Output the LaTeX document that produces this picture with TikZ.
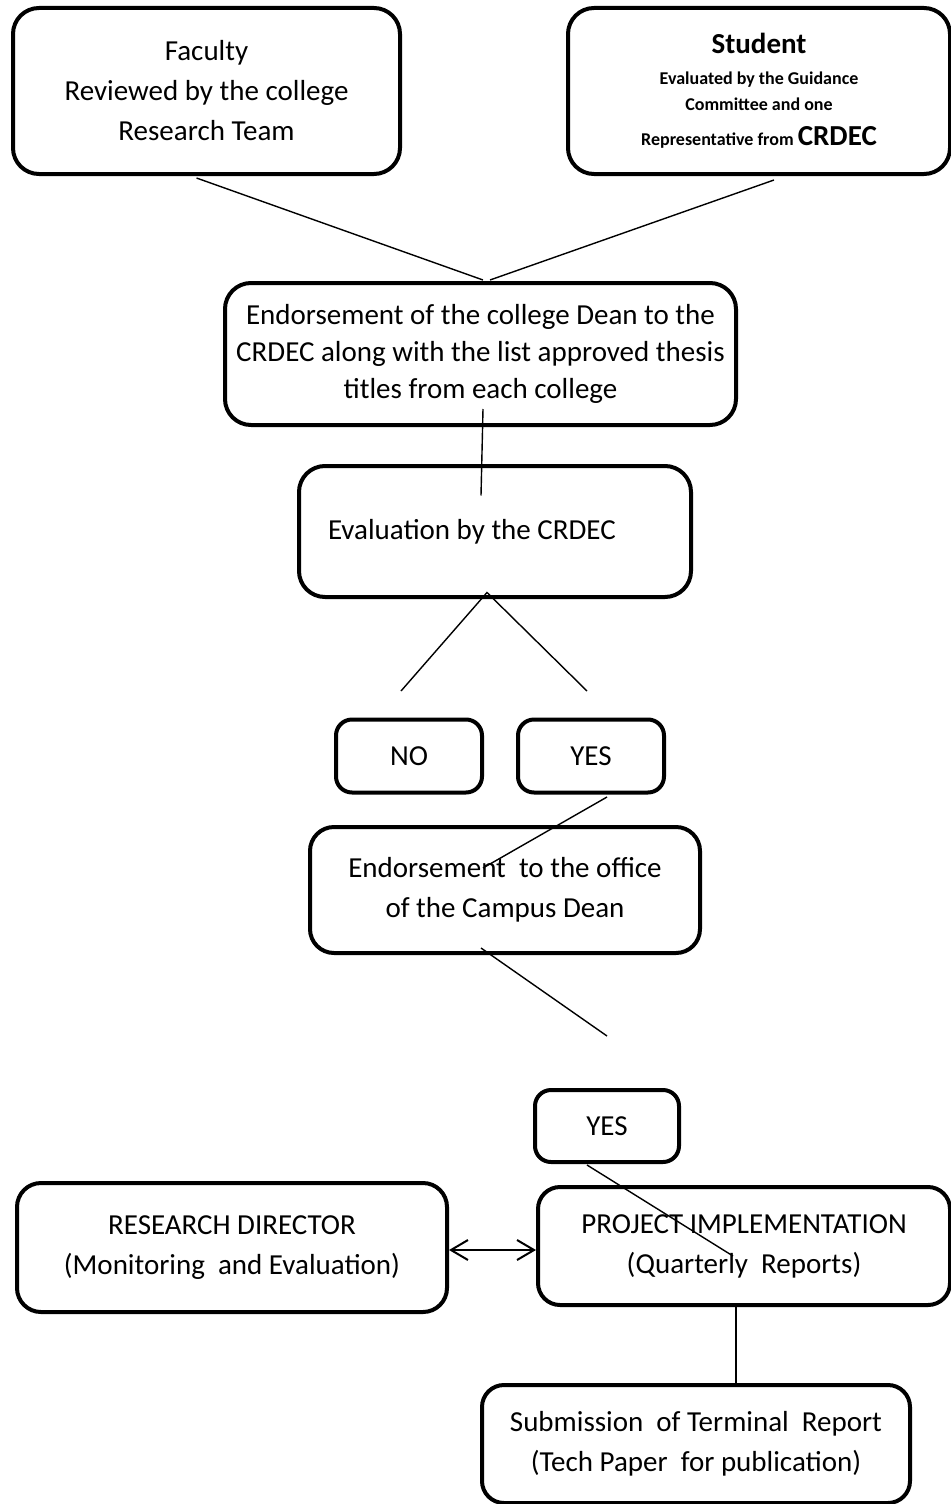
\documentclass[tikz,border=0pt]{standalone}
\usepackage{fontspec}
\setmainfont{Carlito}
\usetikzlibrary{arrows.meta,calc}
\begin{document}
\begin{tikzpicture}[x=0.5pt,y=-0.5pt,
  box/.style={draw, line width=2pt, rounded corners=#1, align=center, inner sep=0pt,
    font=\fontsize{14.5}{20}\selectfont},
  box/.default=13pt,
  sz/.style 2 args={minimum width={#1*0.5pt}, minimum height={#2*0.5pt}},
  conn/.style={line width=0.7pt},
  dbl/.style={line width=1pt, {Straight Barb[length=8.5pt,width=10pt]}-{Straight Barb[length=8.5pt,width=10pt]}}]
\useasboundingbox (0,0) rectangle (951,1504);

\node[box, sz={387}{166}] (fac) at (206.5,91) {Faculty\\Reviewed by the college\\Research Team};
\node[box, sz={382}{166}, font=\fontsize{9}{13}\bfseries] (stu) at (759,91)
  {{\fontsize{14.5}{17}\selectfont Student}\\[2.5pt]
   Evaluated by the Guidance\\
   Committee and one\\[4.5pt]
   Representative from {\fontsize{14.5}{13}\selectfont CRDEC}};
\node[box, sz={511}{142}, font=\fontsize{14.5}{18.5}\selectfont] (endo) at (480.5,354)
  {Endorsement of the college Dean to the\\CRDEC along with the list approved thesis\\titles from each college};
\node[box, sz={392}{131}, align=flush left, text width={334*0.5pt}] (eval) at (495,531.5) {Evaluation by the CRDEC};
\node[box=8pt, sz={146}{73}] (no) at (409,756) {NO};
\node[box=8pt, sz={146}{73}] (yes) at (591,756) {YES};
\node[box=12pt, sz={390}{126}] (camp) at (505,890) {Endorsement\ \ to the office\\of the Campus\ Dean};
\node[box=8pt, sz={144}{72}] (yes2) at (607,1126) {YES};
\node[box=12pt, sz={430}{129}] (res) at (232,1247.5) {RESEARCH DIRECTOR\\(Monitoring\ \ and Evaluation)};
\node[box=11pt, sz={412}{118}] (proj) at (744,1246) {PROJECT IMPLEMENTATION\\(Quarterly\ \ Reports)};
\node[box=11pt, sz={428}{118}] (sub) at (696,1444) {Submission\ \ of Terminal\ \ Report\\(Tech Paper\ \ for publication)};

\coordinate (noTop) at ($(no.north)+(-8,-26.5)$);
\coordinate (yesTop) at ($(yes.north)+(-4,-26.5)$);
\coordinate (yes2Top) at ($(yes2.north)+(0,-52)$);

\draw[conn] ($(fac.south)+(-10,2)$) -- ($(endo.north)+(2.5,-1)$);
\draw[conn] ($(stu.south)+(15,4)$) -- ($(endo.north)+(9.5,-1)$);
\draw[conn] ($(endo.south)+(2.5,-18)$) -- ($(eval.north)+(-14,31.5)$);
\draw[conn] (noTop) -- ($(eval.south)+(-8,-6.5)$) -- (yesTop);
\draw[conn] ($(yes.south)+(16,2.5)$) -- ($(camp.north)+(-22,43)$);
\draw[conn] ($(camp.south)+(-24,-7)$) -- (yes2Top);
\draw[conn] ($(yes2.south)+(-20,1)$) -- ($(proj.north)+(-11,71)$);
\draw[dbl] ($(res.east)+(0,2.5)$) -- ($(proj.west)+(0,4)$);
\draw[conn] ($(proj.south)+(-8,0)$) -- ($(sub.north)+(40,0)$);
\end{tikzpicture}
\end{document}
